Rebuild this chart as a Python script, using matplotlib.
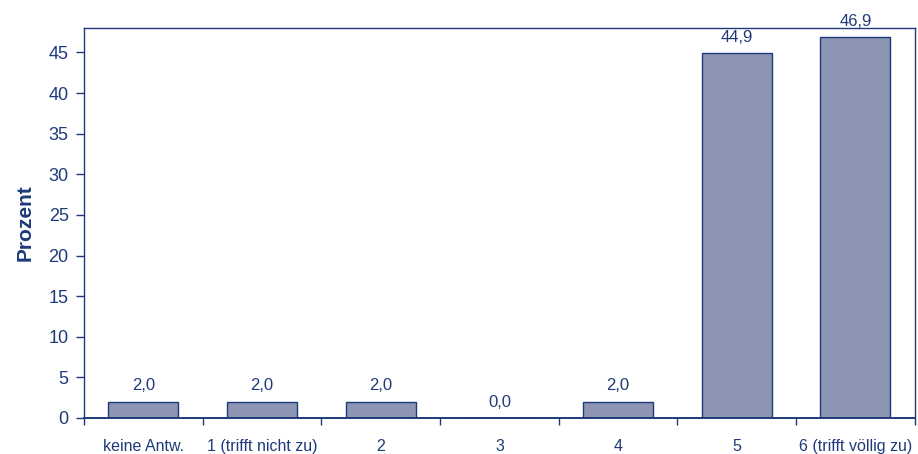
import matplotlib
matplotlib.use("Agg")
import matplotlib.pyplot as plt
import numpy as np

# Antwortverteilung in Prozent
categories = ["keine Antw.", "1 (trifft nicht zu)", "2", "3", "4", "5", "6 (trifft völlig zu)"]
values = [2.0, 2.0, 2.0, 0.0, 2.0, 44.9, 46.9]
yticks = [0, 5, 10, 15, 20, 25, 30, 35, 40, 45]

navy = "#1F3A78"
bar_fill = "#8C96B4"

plt.rcParams["font.family"] = ["Liberation Sans", "DejaVu Sans"]

fig = plt.figure(figsize=(9.18, 4.54), dpi=100)
ax = fig.add_axes([0.0915, 0.0793, 0.905, 0.859])

x = np.arange(len(categories))
bars = ax.bar(x, values, width=0.59, color=bar_fill, edgecolor=navy, linewidth=1.0, zorder=2)

for rect, v in zip(bars, values):
    ax.annotate(f"{v:.1f}".replace(".", ","),
                xy=(rect.get_x() + rect.get_width() / 2, v),
                xytext=(0, 6), textcoords="offset points",
                ha="center", va="bottom", fontsize=12, color=navy,
                annotation_clip=False)

ax.set_xlim(-0.5, len(categories) - 0.5)
ax.set_ylim(0, 48)
ax.set_yticks(yticks)
ax.set_yticklabels([str(t) for t in yticks])

# Kategorienamen mittig, Teilstriche an den Grenzen
ax.set_xticks(x)
ax.set_xticklabels(categories)
ax.set_xticks(np.arange(-0.5, len(categories) + 0.5, 1.0), minor=True)
ax.tick_params(axis="x", which="major", length=0, pad=15, labelsize=11.5, labelcolor=navy)
ax.tick_params(axis="x", which="minor", length=5, width=1.0, color=navy, direction="out")
ax.tick_params(axis="y", length=6, width=1.0, color=navy, direction="out",
               labelsize=13, labelcolor=navy, pad=5)

for side in ["left", "bottom", "top", "right"]:
    ax.spines[side].set_color(navy)
    ax.spines[side].set_linewidth(1.0)
ax.spines["bottom"].set_linewidth(1.4)

ax.set_ylabel("Prozent", fontsize=15, fontweight="bold", color=navy, labelpad=10)

fig.savefig("out.png", dpi=100)
